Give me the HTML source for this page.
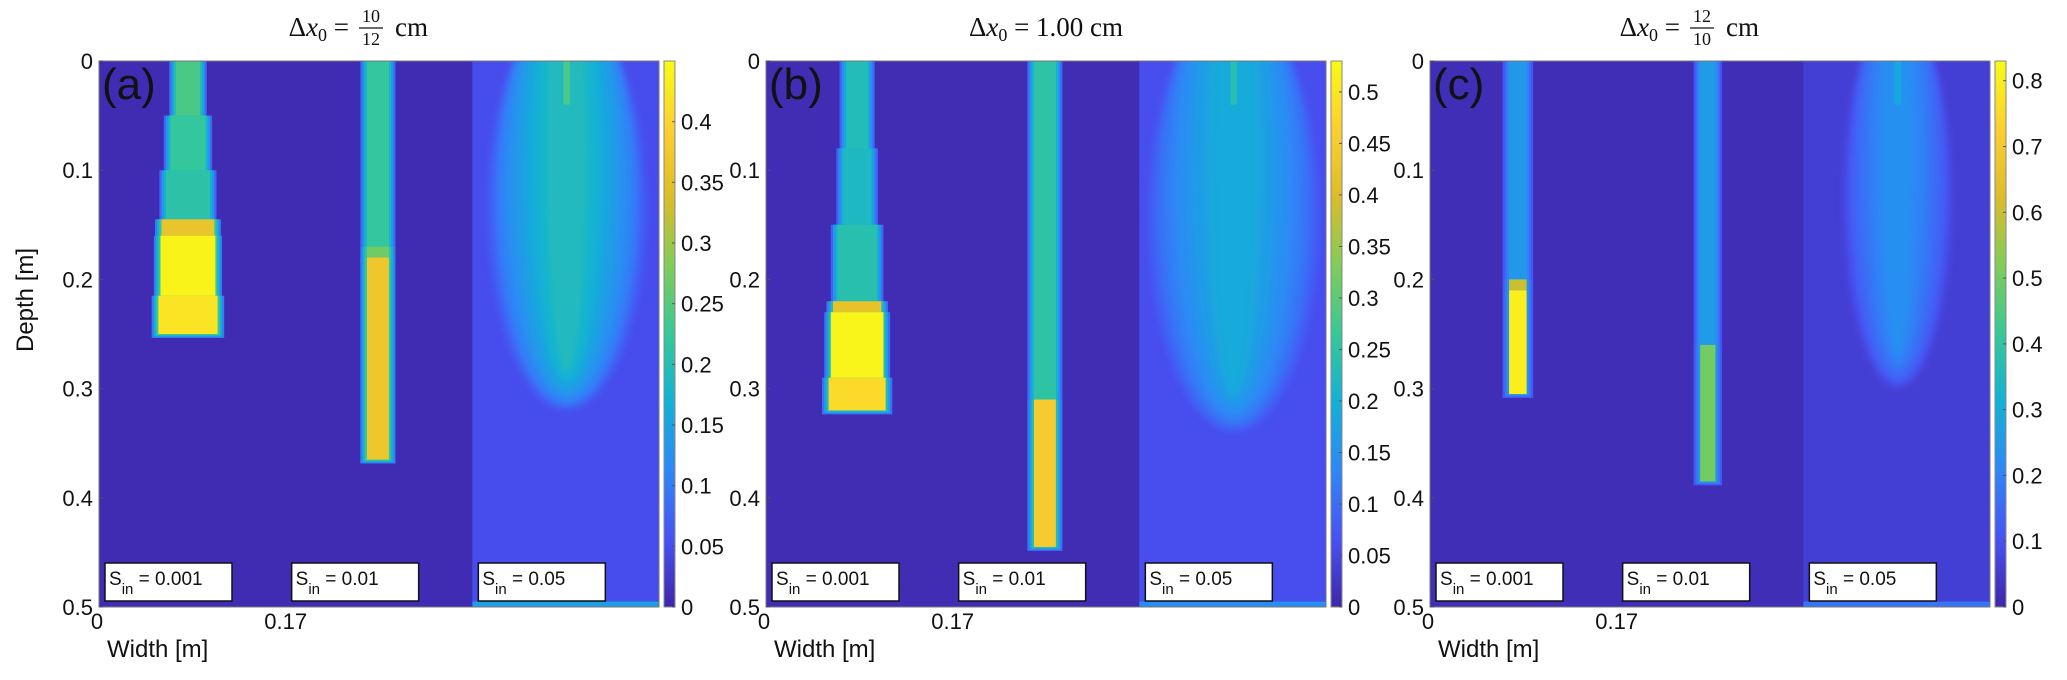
<!DOCTYPE html>
<html><head><meta charset="utf-8"><style>
html,body{margin:0;padding:0;background:#fff;}
svg{display:block;}
</style></head><body>
<svg id="fig" width="2067" height="680" xmlns="http://www.w3.org/2000/svg" font-family="Liberation Sans, DejaVu Sans, sans-serif">
<defs>
<linearGradient id="parula" x1="0" y1="1" x2="0" y2="0">
<stop offset="0" stop-color="#3e26a8"/><stop offset="0.125" stop-color="#4852f4"/><stop offset="0.25" stop-color="#2e87f7"/><stop offset="0.375" stop-color="#12b1d6"/><stop offset="0.5" stop-color="#37c897"/><stop offset="0.625" stop-color="#80cc59"/><stop offset="0.75" stop-color="#dcbd29"/><stop offset="0.875" stop-color="#fccf30"/><stop offset="1" stop-color="#f9fb15"/>
</linearGradient>
<filter id="soft" x="-20%" y="-20%" width="140%" height="140%"><feGaussianBlur stdDeviation="3"/></filter>
</defs>
</svg>
<script>
// ---- data ----
const panelLabels = ['(a)', '(b)', '(c)'];
const colorMax = [0.45, 0.53, 0.83];
const cbTicksA = [0, 0.05, 0.1, 0.15, 0.2, 0.25, 0.3, 0.35, 0.4];
const cbTicksB = [0, 0.05, 0.1, 0.15, 0.2, 0.25, 0.3, 0.35, 0.4, 0.45, 0.5];
const cbTicksC = [0, 0.1, 0.2, 0.3, 0.4, 0.5, 0.6, 0.7, 0.8];
const depthTicks = [0, 0.1, 0.2, 0.3, 0.4, 0.5];
const widthTickLabels = ['0', '0.17'];
const sinLabels = ['0.001', '0.01', '0.05'];
const bgValues = [0.008, 0.01, 0.02];
const bgWideValues = [0.05, 0.06, 0.06];
// plume segments: [depthTop, depthBottom, halfWidth(m), value]
const plumeA1 = [[0,0.05,0.011,0.24],[0.05,0.1,0.016,0.22],[0.1,0.145,0.02,0.21],[0.145,0.16,0.024,0.36],[0.16,0.215,0.025,0.44],[0.215,0.25,0.027,0.42]];
const plumeA2 = [[0,0.17,0.01,0.22],[0.17,0.18,0.01,0.27],[0.18,0.365,0.01,0.37]];
const plumeB1 = [[0,0.08,0.01,0.23],[0.08,0.15,0.013,0.22],[0.15,0.22,0.018,0.24],[0.22,0.23,0.022,0.42],[0.23,0.29,0.024,0.52],[0.29,0.32,0.026,0.48]];
const plumeB2 = [[0,0.31,0.01,0.25],[0.31,0.445,0.01,0.45]];
const plumeC1 = [[0,0.2,0.008,0.25],[0.2,0.21,0.008,0.6],[0.21,0.305,0.008,0.8]];
const plumeC2 = [[0,0.26,0.007,0.26],[0.26,0.385,0.007,0.5]];
const plumeCenters = [[0.081,0.084],[0.083,0.084],[0.080,0.083]];
const ellipseDepth = [0.32, 0.34, 0.30];
const ellipseHalf = [0.072, 0.078, 0.05];
const ellipseValue = [0.19, 0.19, 0.23];
const titleFrac = [['10','12'], null, ['12','10']];
// ---- layout ----
const panelLeft = [99, 766, 1430];
const plotTop = 61, plotBottom = 607, plotW = 560;
const subW = 0.17, totalW = 0.51, totalD = 0.5;
const NS = 'http://www.w3.org/2000/svg';
const svg = document.getElementById('fig');
const stops = [[0,[62,38,168]],[0.125,[72,82,244]],[0.25,[46,135,247]],[0.375,[18,177,214]],[0.5,[55,200,151]],[0.625,[128,204,89]],[0.75,[220,189,41]],[0.875,[252,207,48]],[1,[249,251,21]]];
function parula(t){t=Math.max(0,Math.min(1,t));for(let i=1;i<stops.length;i++){if(t<=stops[i][0]){const a=stops[i-1],b=stops[i];const f=(t-a[0])/(b[0]-a[0]);const c=a[1].map((v,k)=>Math.round(v+(b[1][k]-v)*f));return 'rgb('+c.join(',')+')';}}return 'rgb(249,251,21)';}
function mk(tag, attrs, parent){const e=document.createElementNS(NS,tag);for(const k in attrs)e.setAttribute(k,attrs[k]);(parent||svg).appendChild(e);return e;}
const plumes = [[plumeA1,plumeA2],[plumeB1,plumeB2],[plumeC1,plumeC2]];
const cbTicks = [cbTicksA, cbTicksB, cbTicksC];
for(let p=0;p<3;p++){
  const L = panelLeft[p];
  const xs = m => L + m/totalW*plotW;
  const ys = d => plotTop + d/totalD*(plotBottom-plotTop);
  const col = v => parula(v/colorMax[p]);
  const g = mk('g',{});
  
  
  for(let s=0;s<3;s++){
    const r = mk('rect',{x:xs(s*subW),y:ys(0),width:xs((s+1)*subW)-xs(s*subW)+0.5,height:ys(totalD)-ys(0),fill:col(s<2?bgValues[p]:bgWideValues[p])},g);
    
    
  }
  for(let s=0;s<2;s++){
    const cx = s*subW + plumeCenters[p][s];
    const segs = plumes[p][s];
    const layers = [[0.006,0.35],[0.004,0.6],[0.002,0.8],[0,1]];
    for(const [ext,f] of layers){
      for(const sg of segs){
        const hw = sg[2]+ext;
        const v = bgValues[p] + (sg[3]-bgValues[p])*f*(ext>0?Math.min(1,0.25/sg[3]*1.1):1);
        const r = mk('rect',{x:xs(cx-hw),y:ys(sg[0]),width:xs(cx+hw)-xs(cx-hw),height:ys(sg[1]+(ext>0?ext*0.6:0))-ys(sg[0]),fill:col(v)},g);
        
        
      }
    }
  }
  {
    const cx = 2*subW + 0.086;
    const D = ellipseDepth[p], hw = ellipseHalf[p], v = ellipseValue[p];
    const cp = mk('clipPath',{id:'clip'+p},g);
    mk('rect',{x:xs(2*subW),y:ys(0),width:xs(totalW)-xs(2*subW),height:ys(totalD)-ys(0)},cp);
    const eg = mk('g',{'clip-path':'url(#clip'+p+')'},g);
    const inner = mk('g',{filter:'url(#soft)'},eg);
    const n = 9;
    for(let i=0;i<n;i++){
      const k = 1 - i/n*0.85;
      const f = Math.pow(i/(n-1),0.7)*0.85+0.15;
      const cyD = D*(0.42 - 0.22*(1-k));
      const ry = D - cyD - D*0.05*(1-k)*3;
      const e = mk('ellipse',{cx:xs(cx),cy:ys(cyD),rx:(xs(hw)-xs(0))*k,ry:ys(ry)-ys(0),fill:col(bgWideValues[p]+(v-bgWideValues[p])*f)},inner);
      
      
    }
    const top = mk('rect',{x:xs(cx-0.003),y:ys(0),width:xs(0.006)-xs(0),height:ys(0.04)-ys(0),fill:col(v*1.25)},eg);
    
    
    const strip = mk('rect',{x:xs(2*subW),y:ys(0.495),width:xs(totalW)-xs(2*subW),height:ys(0.5)-ys(0.495),fill:col(v*0.75)},eg);
    
    
  }
  const fr = mk('rect',{x:L,y:plotTop,width:plotW,height:plotBottom-plotTop,fill:'none',stroke:'#777','stroke-width':1},g);
  
  
  for(const d of depthTicks){
    const t = mk('text',{x:L-6,y:ys(d)+8,'text-anchor':'end','font-size':22,fill:'#111'},g);
    t.textContent = String(d);
    
    
    mk('line',{x1:L,x2:L+4,y1:ys(d),y2:ys(d),stroke:'#555'},g);
  }
  widthTickLabels.forEach((lab,i)=>{
    const m = i*subW;
    const t = mk('text',{x:xs(m)+(i===0?-2:0),y:plotBottom+22,'text-anchor':'middle','font-size':22,fill:'#111'},g);
    t.textContent = lab;
    
    
  });
  const xl = mk('text',{x:L+8,y:plotBottom+50,'font-size':24,fill:'#111'},g);
  xl.textContent = 'Width [m]';
  
  
  const pl = mk('text',{x:L+3,y:plotTop+38,'font-size':44,fill:'#111'},g);
  pl.textContent = panelLabels[p];
  
  
  for(let s=0;s<3;s++){
    const bx = xs(s*subW)+6;
    const b = mk('rect',{x:bx,y:563,width:127,height:38,fill:'#fff',stroke:'#111','stroke-width':1.5},g);
    
    
    const t = mk('text',{x:bx+4,y:585,'font-size':19,fill:'#111'},g);
    t.innerHTML = 'S<tspan font-size="15" dy="9">in</tspan><tspan dy="-9"> = '+sinLabels[s]+'</tspan>';
    
    
  }
  const cbx = L+plotW+5;
  const cb = mk('rect',{x:cbx,y:plotTop,width:11,height:plotBottom-plotTop,fill:'url(#parula)',stroke:'#888','stroke-width':1},g);
  
  
  for(const v of cbTicks[p]){
    const y = plotBottom - v/colorMax[p]*(plotBottom-plotTop);
    mk('line',{x1:cbx+8,x2:cbx+11,y1:y,y2:y,stroke:'#555'},g);
    const t = mk('text',{x:cbx+17,y:y+8,'font-size':22,fill:'#111'},g);
    t.textContent = String(v);
    
    
  }
  const tc = L+plotW/2;
  const tg = mk('g',{'font-family':'Liberation Serif, DejaVu Serif, serif',fill:'#111'},g);
  
  
  if(titleFrac[p]){
    const t = mk('text',{x:tc-30,y:36,'font-size':27,'text-anchor':'end'},tg);
    t.innerHTML = 'Δ<tspan font-style="italic">x</tspan><tspan font-size="18" dy="5">0</tspan><tspan dy="-5"> =</tspan>';
    const n = mk('text',{x:tc-8,y:22,'font-size':18,'text-anchor':'middle'},tg); n.textContent = titleFrac[p][0];
    mk('line',{x1:tc-20,x2:tc+4,y1:28,y2:28,stroke:'#111','stroke-width':1.2},tg);
    const d = mk('text',{x:tc-8,y:45,'font-size':18,'text-anchor':'middle'},tg); d.textContent = titleFrac[p][1];
    const cm = mk('text',{x:tc+16,y:36,'font-size':27},tg); cm.textContent = 'cm';
  } else {
    const t = mk('text',{x:tc,y:36,'font-size':27,'text-anchor':'middle'},tg);
    t.innerHTML = 'Δ<tspan font-style="italic">x</tspan><tspan font-size="18" dy="5">0</tspan><tspan dy="-5"> = 1.00 cm</tspan>';
  }
}
const yl = mk('text',{x:33,y:300,'font-size':24,fill:'#111','text-anchor':'middle',transform:'rotate(-90 33 300)'});
yl.textContent = 'Depth [m]';


</script>
</body></html>
